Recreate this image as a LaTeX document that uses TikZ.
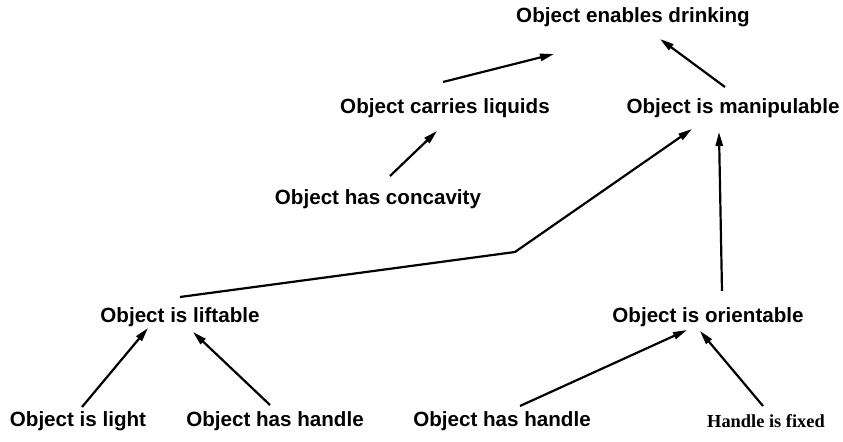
\documentclass[tikz,border=0pt]{standalone}
\usepackage{fontspec}
\setmainfont{Liberation Sans}
\newfontfamily\serifbold{Liberation Serif}
\usetikzlibrary{arrows.meta}

\begin{document}
\begin{tikzpicture}[x=0.5pt,y=-0.5pt]
            \useasboundingbox (0,0) rectangle (843,442);
            \begin{scope}[prop/.style={inner sep=0pt, font=\fontsize{10.3}{12}\selectfont\bfseries}]
                \node(drink) at (633,17) [prop]{Object enables drinking};
                %%%
                \node(liquids) at (445,108) [prop]{Object carries liquids};
                \node(manip) at (733,108) [prop]{Object is manipulable};
                \node(concav) at (378,199) [prop]{Object has concavity};
                %%%
                \node(liftable) at (180,317) [prop]{Object is liftable};
                \node(orient) at (708,317) [prop]{Object is orientable};
                %%%
                \node(light) at (78,421) [prop]{Object is light};
                \node(handleA) at (275,421) [prop]{Object has handle};
                \node(handleB) at (502,421) [prop]{Object has handle};
                \node(fixed) at (766,421) [prop, font=\serifbold\fontsize{9.2}{11}\selectfont\bfseries]{Handle is fixed};
            \end{scope}
            \coordinate(bend) at (515,252);
            \begin{scope}[line width=1.1pt, -{Triangle[length=7pt,width=3.6pt]}]
                \draw ([shift={(-2,-26)}]liquids.center) -- ([shift={(-79,37)}]drink.center);
                \draw ([shift={(-8,-21)}]manip.center) -- ([shift={(27,22)}]drink.center);
                %
                \draw ([shift={(12,-23)}]concav.center) -- ([shift={(-8,23)}]liquids.center);
                \draw ([shift={(0,-20)}]liftable.center) -- (bend) -- ([shift={(-41,21)}]manip.center);
                \draw ([shift={(14,-26)}]orient.center) -- ([shift={(-14,24)}]manip.center);
                %
                \draw ([shift={(4,-14)}]light.center) -- ([shift={(-32,11)}]liftable.center);
                \draw ([shift={(-5,-16)}]handleA.center) -- ([shift={(13,15)}]liftable.center);
                \draw ([shift={(18,-15)}]handleB.center) -- ([shift={(-21,13)}]orient.center);
                \draw ([shift={(-3,-15)}]fixed.center) -- ([shift={(-8,14)}]orient.center);
            \end{scope}
        \end{tikzpicture}
\end{document}
